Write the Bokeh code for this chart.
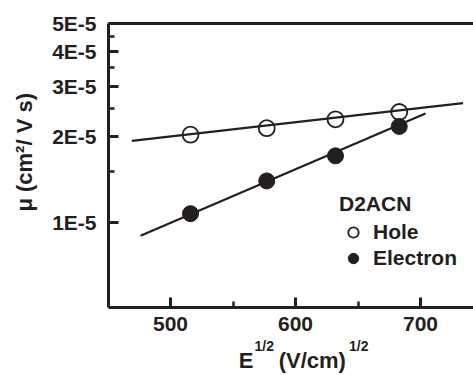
from bokeh.plotting import figure
from bokeh.models import (FixedTicker, CustomJSTickFormatter, Legend, LegendItem,
                          LinearAxis, Range1d)
from bokeh.embed import file_html
from bokeh.resources import INLINE

# ---- data ----
field_sqrt = [516, 577, 632, 683]                      # E^1/2 (V/cm)^1/2
hole_mu = [2.03e-5, 2.14e-5, 2.30e-5, 2.44e-5]         # cm^2/Vs
electron_mu = [1.07e-5, 1.395e-5, 1.71e-5, 2.17e-5]    # cm^2/Vs
hole_fit_x = [469, 734]
hole_fit_y = [1.93e-5, 2.62e-5]
electron_fit_x = [476, 704]
electron_fit_y = [8.94e-6, 2.41e-5]
x_ticks = [500, 600, 700]
x_minor = [550, 650]
y_ticks = [1e-5, 2e-5, 3e-5, 4e-5, 5e-5]
y_minor = [1.5e-5, 2.5e-5, 3.5e-5, 4.5e-5]
legend_title = "D2ACN"
series_names = ["Hole", "Electron"]

# axis-title pieces (text and where along the axis each piece is centred)
x_title_main = ["E", "(V/cm)"]
x_title_main_at = [560.4, 613.4]
x_title_sup = ["1/2", "1/2"]
x_title_sup_at = [575.0, 650.6]
y_title = ["\u03bc (cm\u00b2/ V s)"]
y_title_at = [1.76e-5]

INK = "#231f20"
FONT = "Liberation Sans"

p = figure(width=473, height=375, output_backend="svg", toolbar_location=None,
           y_axis_type="log", x_range=Range1d(450.4, 742.4), y_range=Range1d(5e-6, 5e-5),
           min_border_left=108, min_border_right=0, min_border_top=23, min_border_bottom=65)
p.outline_line_color = None
p.grid.visible = False
p.background_fill_color = "white"

# fit lines
p.line(hole_fit_x, hole_fit_y, line_color=INK, line_width=2.2)
p.line(electron_fit_x, electron_fit_y, line_color=INK, line_width=2.2)

hole_r = p.scatter(field_sqrt, hole_mu, marker="circle", size=16, fill_color=None,
                   line_color=INK, line_width=1.8)
elec_r = p.scatter(field_sqrt, electron_mu, marker="circle", size=16, fill_color=INK,
                   line_color=INK, line_width=1)

for ax in (p.xaxis[0], p.yaxis[0]):
    ax.axis_line_width = 3
    ax.axis_line_color = INK
    ax.major_tick_line_color = INK
    ax.minor_tick_line_color = INK
    ax.major_tick_line_width = 3
    ax.minor_tick_line_width = 2.5
    ax.major_tick_in = 10
    ax.major_tick_out = 0
    ax.minor_tick_in = 6
    ax.minor_tick_out = 0
    ax.major_label_text_font = FONT
    ax.major_label_text_font_style = "bold"
    ax.major_label_text_font_size = "21px"
    ax.major_label_text_color = INK

p.xaxis[0].ticker = FixedTicker(ticks=x_ticks, minor_ticks=x_minor)
p.xaxis[0].major_label_standoff = 9
p.yaxis[0].ticker = FixedTicker(ticks=y_ticks, minor_ticks=y_minor)
p.yaxis[0].major_label_standoff = 12
p.yaxis[0].formatter = CustomJSTickFormatter(code="return (tick/1e-5).toFixed(0) + 'E-5';")

top = LinearAxis(ticker=FixedTicker(ticks=[]), axis_line_width=3, axis_line_color=INK,
                 major_tick_in=0, major_tick_out=0, minor_tick_in=0, minor_tick_out=0,
                 major_label_text_font_size="0px")
p.add_layout(top, "above")


def text_axis(ticks, texts, size, standoff, orientation="horizontal"):
    return LinearAxis(ticker=FixedTicker(ticks=ticks, minor_ticks=[]),
                      formatter=CustomJSTickFormatter(args=dict(t=texts), code="return t[index];"),
                      axis_line_color=None, major_tick_line_color=None,
                      minor_tick_line_color=None, major_tick_in=0, major_tick_out=0,
                      minor_tick_in=0, minor_tick_out=0,
                      major_label_standoff=standoff, major_label_orientation=orientation,
                      major_label_text_font=FONT, major_label_text_font_style="bold",
                      major_label_text_font_size=size, major_label_text_color=INK)

# x axis title: E^(1/2) (V/cm)^(1/2)
p.add_layout(text_axis(x_title_sup_at, x_title_sup, "14px", 4), "below")
p.add_layout(text_axis(x_title_main_at, x_title_main, "22px", -9), "below")
# y axis title
p.add_layout(text_axis(y_title_at, y_title, "22px", 12, "vertical"), "left")

legend = Legend(items=[LegendItem(label=series_names[0], renderers=[hole_r]),
                       LegendItem(label=series_names[1], renderers=[elec_r])],
                title=legend_title, location=(231, 36),
                title_text_font=FONT, title_text_font_style="bold", title_text_font_size="21px",
                title_text_color=INK,
                label_text_font=FONT, label_text_font_style="bold", label_text_font_size="21px",
                label_text_color=INK,
                glyph_width=28, glyph_height=26, spacing=0, padding=0, margin=0,
                label_standoff=6, title_standoff=3,
                border_line_color=None, background_fill_alpha=0)
p.add_layout(legend, "center")

open("out.html", "w").write(file_html(p, INLINE))
